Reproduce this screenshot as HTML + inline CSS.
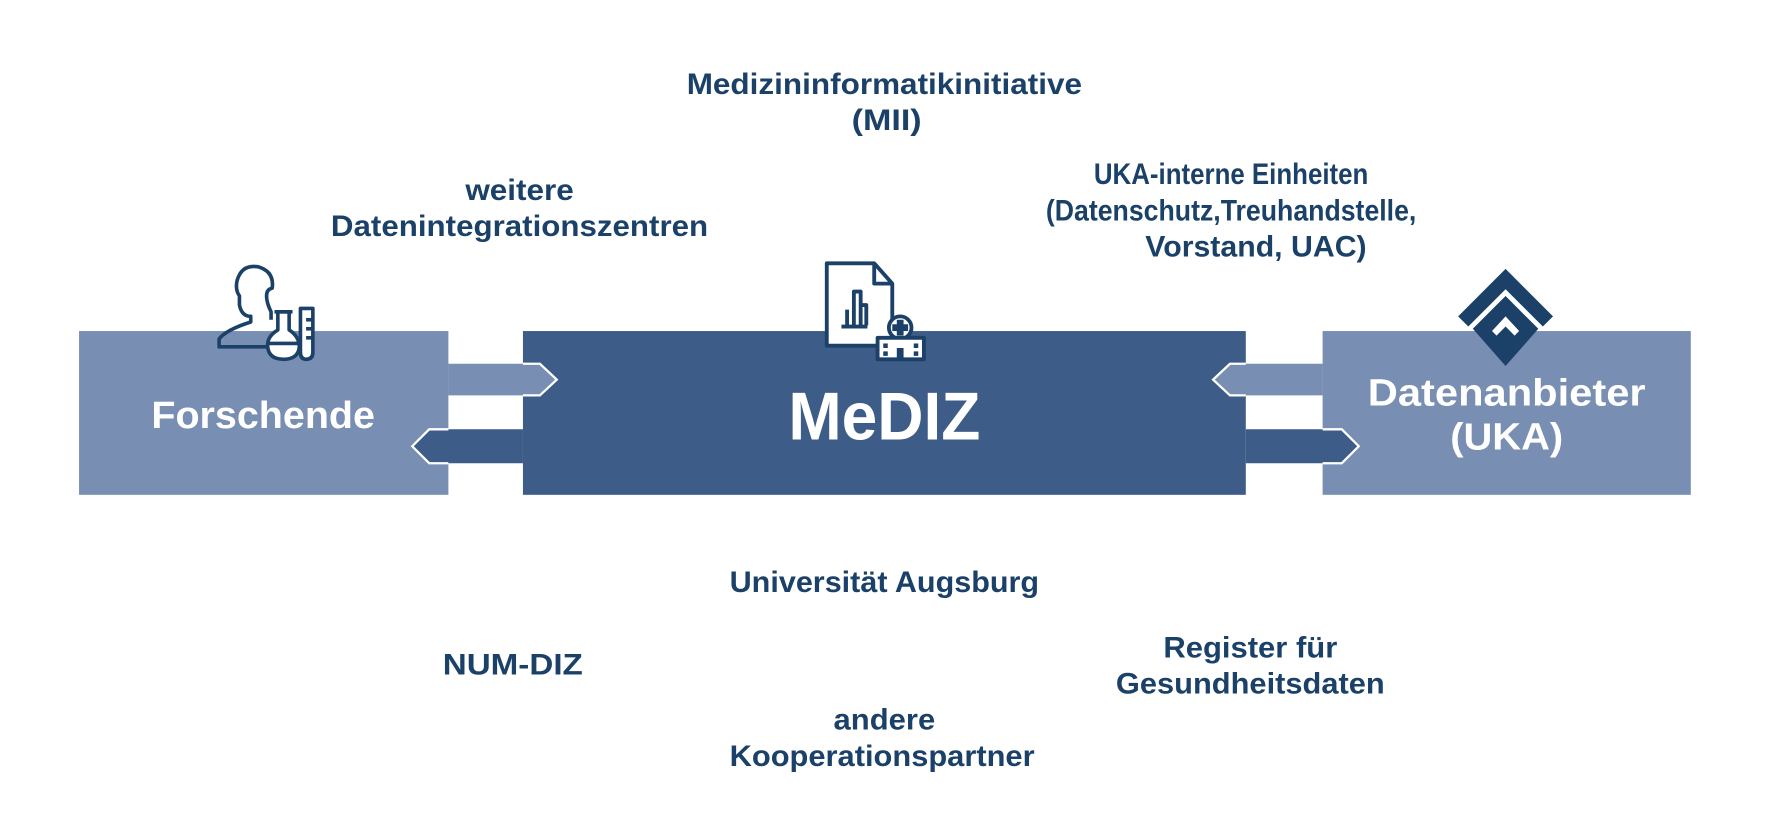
<!DOCTYPE html>
<html><head><meta charset="utf-8">
<style>
html,body{margin:0;padding:0;background:#fff;}
svg{display:block;}
text{font-family:"Liberation Sans",sans-serif;font-weight:bold;}
.t{fill:#1b4169;font-size:26px;}
</style></head>
<body>
<svg width="1771" height="827" viewBox="0 0 1568 732" xmlns="http://www.w3.org/2000/svg">
<rect x="70" y="293" width="327" height="145" fill="#788eb2"/>
<rect x="463" y="293" width="640" height="145" fill="#3d5c87"/>
<rect x="1171" y="293" width="326" height="145" fill="#788eb2"/>

<polygon points="397,322 478,322 493,336 478,350 397,350" fill="#788eb2"/>
<polyline points="463,322 478,322 493,336 478,350 463,350" fill="none" stroke="#fff" stroke-width="2"/>
<polygon points="463,380 380,380 365,395 380,410 463,410" fill="#3d5c87"/>
<polyline points="397,380 380,380 365,395 380,410 397,410" fill="none" stroke="#fff" stroke-width="2"/>

<polygon points="1171,322 1089,322 1074,336 1089,350 1171,350" fill="#788eb2"/>
<polyline points="1103,322 1089,322 1074,336 1089,350 1103,350" fill="none" stroke="#fff" stroke-width="2"/>
<polygon points="1103,380 1188,380 1203,395 1188,410 1103,410" fill="#3d5c87"/>
<polyline points="1171,380 1188,380 1203,395 1188,410 1171,410" fill="none" stroke="#fff" stroke-width="2"/>

<text x="233" y="379" fill="#fff" font-size="34" text-anchor="middle" textLength="198" lengthAdjust="spacingAndGlyphs">Forschende</text>
<text x="783" y="389" fill="#fff" font-size="60" text-anchor="middle" textLength="170" lengthAdjust="spacingAndGlyphs">MeDIZ</text>
<text x="1334" y="359" fill="#fff" font-size="34" text-anchor="middle" textLength="246" lengthAdjust="spacingAndGlyphs">Datenanbieter</text>
<text x="1334" y="398" fill="#fff" font-size="34" text-anchor="middle" textLength="100" lengthAdjust="spacingAndGlyphs">(UKA)</text>

<g fill="none" stroke="#1b4169" stroke-width="3.2" stroke-linejoin="round">
<path d="M240,283 L240,276 Q236,268 236,262 Q236,256 241,255 Q243,240 228,236 Q214,234 210,248 Q208,256 212,262 L212,270 Q214,280 222,280 L222,285 Q200,292 194,300 L194,307 L238,307"/>
<path d="M246,276 L246,292 Q236,298 237,307 Q238,318 251,318 Q264,318 265,307 Q265,298 256,292 L256,276 Z" fill="#fff"/>
<line x1="243" y1="276" x2="259" y2="276"/>
<line x1="238" y1="304" x2="264" y2="304"/>
<path d="M266,273 L277,273 L277,312 Q277,318 271,318 Q266,318 266,312 Z" fill="#fff"/>
<line x1="271" y1="283" x2="277" y2="283"/><line x1="271" y1="291" x2="277" y2="291"/><line x1="271" y1="299" x2="277" y2="299"/>
</g>

<g stroke="#1b4169" stroke-width="3.4" stroke-linejoin="round">
<path d="M732,233 L774,233 L790,251 L790,306 L732,306 Z" fill="#fff"/>
<path d="M774,233 L774,251 L790,251" fill="none"/>
<path d="M745,289 L768,289 M750,288 L750,274 M756,288 L756,258 L762,258 L762,288 M762,270 L767,270 L767,288" fill="none"/>
<circle cx="797" cy="290" r="10" fill="#fff"/>
<rect x="777" y="299" width="41" height="19" fill="#fff"/>
</g>
<g fill="#1b4169">
<rect x="794" y="283" width="6" height="14"/><rect x="790" y="287" width="14" height="6"/>
<rect x="782" y="304" width="4" height="4"/><rect x="782" y="311" width="4" height="4"/>
<rect x="809" y="304" width="4" height="4"/><rect x="809" y="311" width="4" height="4"/>
<rect x="794" y="308" width="6" height="10"/>
</g>

<polygon points="1333,238 1375,280 1366,289 1333,256 1300,289 1291,280" fill="#1b4169"/>
<polygon points="1333,262 1362,291 1333,324 1304,291" fill="#1b4169"/>
<polygon points="1333,280 1345,293 1341,297 1333,289 1325,297 1321,293" fill="#fff"/>

<text class="t" x="783" y="83" text-anchor="middle" textLength="350" lengthAdjust="spacingAndGlyphs">Medizininformatikinitiative</text>
<text class="t" x="785" y="115" text-anchor="middle" textLength="62" lengthAdjust="spacingAndGlyphs">(MII)</text>
<text class="t" x="460" y="177" text-anchor="middle" textLength="96" lengthAdjust="spacingAndGlyphs">weitere</text>
<text class="t" x="460" y="209" text-anchor="middle" textLength="334" lengthAdjust="spacingAndGlyphs">Datenintegrationszentren</text>
<text class="t" x="1090" y="163" text-anchor="middle" textLength="243" lengthAdjust="spacingAndGlyphs">UKA-interne Einheiten</text>
<text class="t" x="1090" y="195" text-anchor="middle" textLength="328" lengthAdjust="spacingAndGlyphs">(Datenschutz,Treuhandstelle,</text>
<text class="t" x="1112" y="227" text-anchor="middle" textLength="196" lengthAdjust="spacingAndGlyphs">Vorstand, UAC)</text>
<text class="t" x="783" y="524" text-anchor="middle" textLength="274" lengthAdjust="spacingAndGlyphs">Universität Augsburg</text>
<text class="t" x="454" y="597" text-anchor="middle" textLength="124" lengthAdjust="spacingAndGlyphs">NUM-DIZ</text>
<text class="t" x="1107" y="582" text-anchor="middle" textLength="154" lengthAdjust="spacingAndGlyphs">Register für</text>
<text class="t" x="1107" y="614" text-anchor="middle" textLength="238" lengthAdjust="spacingAndGlyphs">Gesundheitsdaten</text>
<text class="t" x="783" y="646" text-anchor="middle" textLength="90" lengthAdjust="spacingAndGlyphs">andere</text>
<text class="t" x="781" y="678" text-anchor="middle" textLength="270" lengthAdjust="spacingAndGlyphs">Kooperationspartner</text>
</svg>
</body></html>
